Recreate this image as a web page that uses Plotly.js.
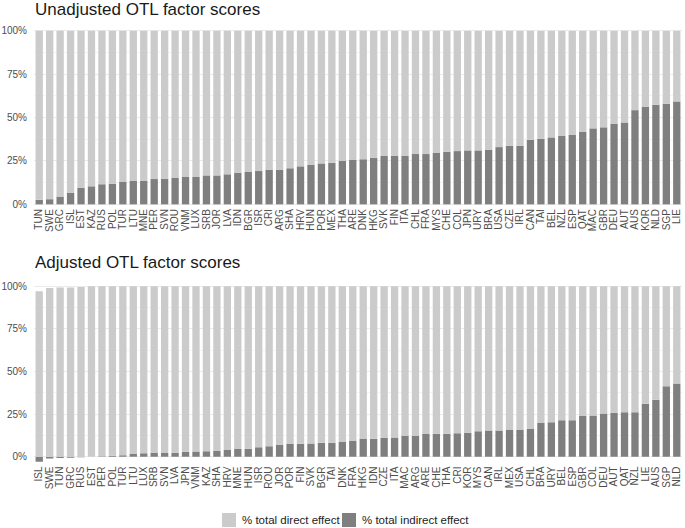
<!DOCTYPE html>
<html>
<head>
<meta charset="utf-8">
<script src="https://cdn.plot.ly/plotly-3.0.1.min.js"></script>
<style>html,body{margin:0;padding:0;background:#fff;}#chart{width:685px;height:528px;}</style>
</head>
<body>
<div id="chart"></div>
<script>
// Unadjusted panel
const unadjCountries = ["TUN","SWE","GRC","ISL","EST","KAZ","RUS","POL","TUR","LTU","MNE","PER","SVN","ROU","VNM","LUX","SRB","JOR","LVA","IDN","BGR","ISR","CRI","ARG","SHA","HRV","HUN","POR","MEX","THA","ARE","DNK","HKG","SVK","FIN","ITA","CHL","FRA","MYS","CHE","COL","JPN","URY","BRA","USA","CZE","IRL","CAN","TAI","BEL","NZL","ESP","QAT","MAC","GBR","DEU","AUT","AUS","KOR","NLD","SGP","LIE"];
const unadjIndirect = [2.6,3.0,4.5,6.6,9.6,10.4,11.6,11.9,12.9,13.5,13.5,14.6,14.8,15.4,15.8,15.8,16.7,16.7,17.3,18.3,18.7,19.2,20.0,20.0,20.8,21.9,22.7,23.6,24.0,25.0,25.6,26.0,26.9,27.9,27.9,27.9,29.0,29.0,29.6,30.3,30.7,31.1,31.1,31.5,33.0,33.8,33.8,37.2,37.8,38.6,39.4,40.0,41.7,43.8,44.4,46.3,47.2,54.3,56.2,57.4,58.0,59.3];

// Adjusted panel
const adjCountries = ["ISL","SWE","TUN","GRC","RUS","EST","PER","POL","TUR","LTU","LUX","SRB","SVN","LVA","JPN","VNM","KAZ","SHA","HRV","MNE","HUN","ISR","ROU","JOR","POR","FIN","SVK","BGR","TAI","DNK","FRA","HKG","IDN","CZE","ITA","MAC","ARG","ARE","CHE","THA","CRI","KOR","MYS","CAN","IRL","MEX","USA","CHL","BRA","URY","BEL","ESP","GBR","COL","DEU","AUT","QAT","NZL","LIE","AUS","SGP","NLD"];
const adjIndirect = [-3.0,-1.0,-0.8,-0.7,-0.4,0.0,0.2,0.6,0.8,1.6,2.0,2.1,2.1,2.3,2.9,3.0,3.2,3.4,3.9,4.5,4.7,5.5,6.1,6.9,7.4,7.6,7.8,8.2,8.2,8.6,9.2,10.3,10.5,10.9,11.3,12.1,12.1,13.3,13.5,13.5,13.7,14.1,14.9,15.3,15.3,15.7,15.7,16.2,19.8,20.2,21.3,21.3,23.9,24.1,25.4,25.8,26.0,26.0,31.1,33.4,41.3,43.0];

const yTickVals = [0,25,50,75,100];
const yTickText = ['0%','25%','50%','75%','100%'];
const seriesNames = ["% total direct effect","% total indirect effect"];
const panelTitles = ["Unadjusted OTL factor scores","Adjusted OTL factor scores"];
const directColor = "#cbcbcb", indirectColor = "#7f7f7f";

const unadjDirect = unadjIndirect.map(v => 100 - Math.abs(v));
const adjDirect = adjIndirect.map(v => 100 - Math.abs(v));

const W = 685, H = 528, L = 34, R = 3;
const px = x => (x - L) / (W - L - R);
const py = y => 1 - y / H;
const FONT = '"Liberation Sans", Arial, Helvetica, sans-serif';

const traces = [
  {type:'bar', x:unadjCountries, y:unadjIndirect, name:seriesNames[1], marker:{color:indirectColor}, xaxis:'x', yaxis:'y'},
  {type:'bar', x:unadjCountries, y:unadjDirect, name:seriesNames[0], marker:{color:directColor}, xaxis:'x', yaxis:'y'},
  {type:'bar', x:adjCountries, y:adjIndirect, name:seriesNames[1], marker:{color:indirectColor}, xaxis:'x2', yaxis:'y2'},
  {type:'bar', x:adjCountries, y:adjDirect, name:seriesNames[0], marker:{color:directColor}, xaxis:'x2', yaxis:'y2'}
];

const tickFont = {family:FONT, size:10, color:'#4d4d4d'};
const yCommon = {
  tickmode:'array', tickvals:yTickVals, ticktext:yTickText,
  showgrid:true, gridcolor:'#ebebeb', gridwidth:1,
  minor:{dtick:12.5, tick0:0, showgrid:true, gridcolor:'#f4f4f4', gridwidth:1},
  zeroline:false, showline:false, ticks:'', ticklabelstandoff:6, tickfont:tickFont, fixedrange:true
};
const xCommon = {
  type:'category', tickmode:'linear', dtick:1, tick0:0, tickangle:-90, tickfont:tickFont,
  showgrid:false, zeroline:false, showline:false, ticks:'', fixedrange:true
};

// legend drawn as swatches + labels in paper space
const legendItems = [
  {label:seriesNames[0], color:directColor, sx:222, tx:240},
  {label:seriesNames[1], color:indirectColor, sx:342, tx:360}
];
const shapes = legendItems.map(it => ({type:'rect', xref:'paper', yref:'paper',
  x0:px(it.sx), x1:px(it.sx+14), y0:py(527), y1:py(513), line:{width:0}, fillcolor:it.color}));
const legendAnn = legendItems.map(it => ({text:it.label, xref:'paper', yref:'paper',
  x:px(it.tx), y:py(520), xanchor:'left', yanchor:'middle', showarrow:false,
  font:{family:FONT, size:11.5, color:'#222'}}));

const layout = {
  width:W, height:H,
  margin:{l:L, r:R, t:0, b:0, pad:0},
  paper_bgcolor:'#ffffff', plot_bgcolor:'#ffffff',
  barmode:'relative', bargap:0.3,
  showlegend:false,
  xaxis:Object.assign({}, xCommon, {anchor:'y', domain:[0,1]}),
  xaxis2:Object.assign({}, xCommon, {anchor:'y2', domain:[0,1]}),
  yaxis:Object.assign({}, yCommon, {anchor:'x', range:[-1,101], domain:[py(206.1), py(29.1)]}),
  yaxis2:Object.assign({}, yCommon, {anchor:'x2', range:[-4,101], domain:[py(463.5), py(284.5)]}),
  shapes:shapes,
  annotations:[
    {text:panelTitles[0], xref:'paper', yref:'paper', x:px(33), y:py(10), xanchor:'left', yanchor:'middle', showarrow:false,
     font:{family:FONT, size:17, color:'#1a1a1a'}},
    {text:panelTitles[1], xref:'paper', yref:'paper', x:px(33), y:py(262), xanchor:'left', yanchor:'middle', showarrow:false,
     font:{family:FONT, size:17, color:'#1a1a1a'}}
  ].concat(legendAnn)
};

Plotly.newPlot('chart', traces, layout, {displayModeBar:false, staticPlot:true});
</script>
</body>
</html>
